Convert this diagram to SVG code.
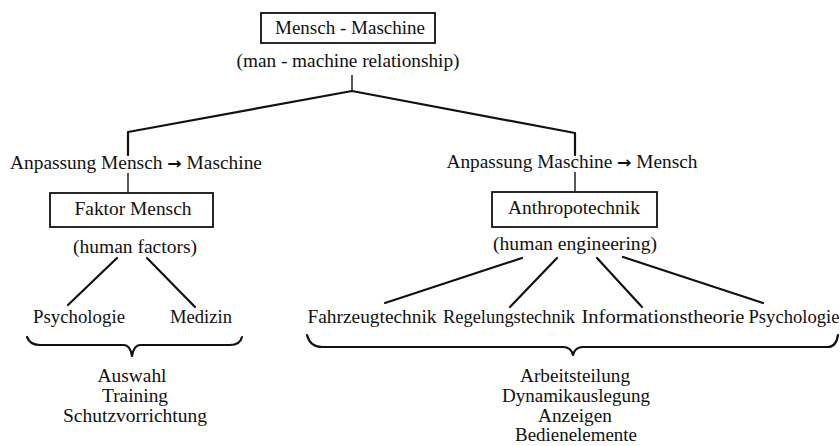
<svg xmlns="http://www.w3.org/2000/svg" width="840" height="446" viewBox="0 0 840 446">
<style>
text{font-family:"Liberation Serif","Times New Roman",serif;font-size:18px;fill:#111;text-anchor:middle}
.arr{font-family:"DejaVu Sans",sans-serif;font-size:16px;font-weight:bold}
.box{fill:#fff;stroke:#111;stroke-width:1.8}
.ln{fill:none;stroke:#111;stroke-width:2.2;stroke-linecap:round;stroke-linejoin:round}
.thin{fill:none;stroke:#111;stroke-width:1.4}
</style>
<rect width="840" height="446" fill="#fff"/>
<g id="connectors">
<path class="thin" d="M352,75 V91"/>
<path class="ln" d="M128,155 V132 L352,91 L575,133 V155"/>
<path class="thin" d="M128,173 V193"/>
<path class="thin" d="M575,172 V192"/>
<path class="ln" d="M117,258 L68,305"/>
<path class="ln" d="M147,258 L195,307"/>
<path class="ln" d="M522,258 L385,303"/>
<path class="ln" d="M557,258 L510,307"/>
<path class="ln" d="M597,258 L642,307"/>
<path class="ln" d="M623,257 L763,303"/>
<path class="ln" d="M27,337 Q30,345 40,345 L124,345 Q130,345 132,356 Q134,345 140,345 L230,345 Q240,345 242,337"/>
<path class="ln" d="M307,335 Q310,347 322,347 L563,347 Q571,347 573,355 Q575,347 583,347 L828,347 Q836,347 838,335"/>
</g>
<g id="root">
<rect class="box" x="261" y="13" width="174" height="30"/>
<text x="350" y="34" textLength="150" lengthAdjust="spacingAndGlyphs">Mensch - Maschine</text>
<text x="348" y="67" textLength="223" lengthAdjust="spacingAndGlyphs">(man - machine relationship)</text>
</g>
<g id="label-left">
<text x="136" y="169" textLength="252" lengthAdjust="spacingAndGlyphs">Anpassung Mensch <tspan class="arr">→</tspan> Maschine</text>
</g>
<g id="label-right">
<text x="572" y="168" textLength="251" lengthAdjust="spacingAndGlyphs">Anpassung Maschine <tspan class="arr">→</tspan> Mensch</text>
</g>
<g id="faktor-mensch">
<rect class="box" x="50" y="193" width="163" height="34"/>
<text x="133" y="215" textLength="117" lengthAdjust="spacingAndGlyphs">Faktor Mensch</text>
<text x="135" y="253" textLength="124" lengthAdjust="spacingAndGlyphs">(human factors)</text>
</g>
<g id="anthropotechnik">
<rect class="box" x="492" y="192" width="165" height="35"/>
<text x="574" y="214" textLength="132" lengthAdjust="spacingAndGlyphs">Anthropotechnik</text>
<text x="575" y="250" textLength="164" lengthAdjust="spacingAndGlyphs">(human engineering)</text>
</g>
<g id="psychologie-left"><text x="79" y="323" textLength="92" lengthAdjust="spacingAndGlyphs">Psychologie</text></g>
<g id="medizin"><text x="201" y="323" textLength="62" lengthAdjust="spacingAndGlyphs">Medizin</text></g>
<g id="fahrzeugtechnik"><text x="372" y="323" textLength="129" lengthAdjust="spacingAndGlyphs">Fahrzeugtechnik</text></g>
<g id="regelungstechnik"><text x="509" y="323" textLength="132" lengthAdjust="spacingAndGlyphs">Regelungstechnik</text></g>
<g id="informationstheorie"><text x="663" y="323" textLength="163" lengthAdjust="spacingAndGlyphs">Informationstheorie</text></g>
<g id="psychologie-right"><text x="794" y="323" textLength="91" lengthAdjust="spacingAndGlyphs">Psychologie</text></g>
<g id="results-left">
<text x="132" y="382" textLength="69" lengthAdjust="spacingAndGlyphs">Auswahl</text>
<text x="135" y="402" textLength="66" lengthAdjust="spacingAndGlyphs">Training</text>
<text x="135" y="422" textLength="144" lengthAdjust="spacingAndGlyphs">Schutzvorrichtung</text>
</g>
<g id="results-right">
<text x="575" y="382" textLength="110" lengthAdjust="spacingAndGlyphs">Arbeitsteilung</text>
<text x="576" y="402" textLength="148" lengthAdjust="spacingAndGlyphs">Dynamikauslegung</text>
<text x="575" y="422" textLength="74" lengthAdjust="spacingAndGlyphs">Anzeigen</text>
<text x="576" y="441" textLength="122" lengthAdjust="spacingAndGlyphs">Bedienelemente</text>
</g>
</svg>
